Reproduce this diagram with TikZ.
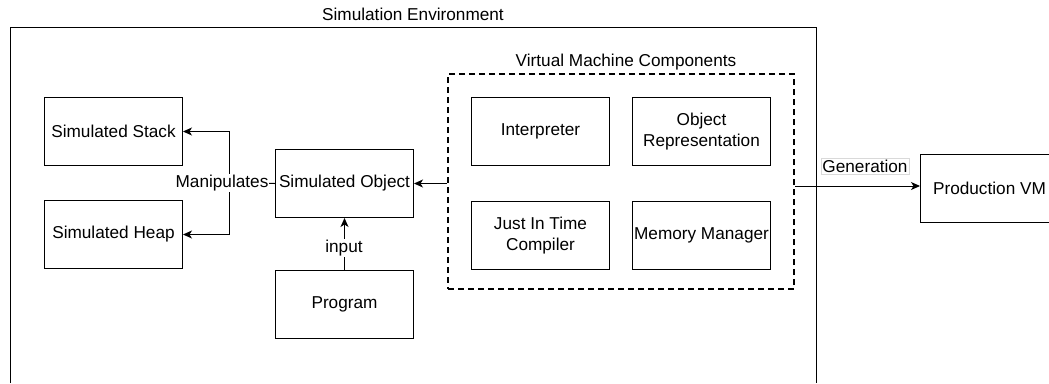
\documentclass[tikz,border=0pt]{standalone}
\usepackage{fontspec}
\setmainfont{Liberation Sans}
\usetikzlibrary{arrows.meta}
\begin{document}
\begin{tikzpicture}[x=1pt,y=-1pt,
  font=\fontsize{17.2}{20.5}\selectfont,
  box/.style={draw, line width=1pt, minimum width=138pt, minimum height=68pt, align=center, inner sep=1pt, anchor=north west},
  arr/.style={draw, line width=1pt, -{Stealth[length=9pt,width=8pt,inset=2.5pt]}},
  plain/.style={draw, line width=1pt},
  lbl/.style={fill=white, inner sep=1pt}
]
\useasboundingbox (0,0) rectangle (1049,383);
\fill[white] (0,0) rectangle (1049,383);
% outer environment frame (open at bottom, cut by page)
\coordinate (envBL) at (10,383);
\coordinate (envTL) at (10,27);
\coordinate (envTR) at (816,27);
\coordinate (envBR) at (816,383);
\draw[plain] (envBL) -- (envTL) -- (envTR) -- (envBR);
\node (envtitle) at (413,14) {Simulation Environment};

% left nodes
\node[box] (stack) at (44,97) {Simulated Stack};
\node[box] (heap) at (44,200) {Simulated Heap};
\node[box] (obj) at (275,149) {Simulated Object};
\node[box] (prog) at (275,270) {Program};

% VM components
\coordinate (vmNW) at (447,73);
\node[draw, line width=2pt, dash pattern=on 6pt off 4pt, inner sep=0pt,
  minimum width=346pt, minimum height=215pt, anchor=north west] (vm) at (vmNW) {};
\node (vmtitle) at (626,62) {Virtual Machine Components};
\node[box] (interp) at (471,97) {Interpreter};
\node[box] (objrep) at (632,97) {Object\\Representation};
\node[box] (jit) at (471,201) {Just In Time\\Compiler};
\node[box] (mem) at (632,201) {Memory Manager};

% production VM (cut by page edge)
\begin{scope}
\clip (0,0) rectangle (1049,383);
\node[box] (prod) at (920,154) {Production VM};
\end{scope}

% connectors
\coordinate (junc) at (229,183);
\draw[plain] (obj.west) -- (junc);
\draw[arr] (junc) |- (stack.east);
\draw[arr] (junc) |- (heap.east);
\node[lbl] (maniplbl) at (222,183) {Manipulates};

\draw[arr] (prog.north) -- (obj.south);
\node[lbl] (inputlbl) at (344,248) {input};

\draw[arr] (vm.west |- obj.east) -- (obj.east);

\draw[arr] (vm.east |- 0,186) -- (prod.west |- 0,186);
\node[draw=black!15, line width=0.5pt, fill=white, inner sep=1.5pt] (genlbl) at (865,166) {Generation};
\end{tikzpicture}
\end{document}
